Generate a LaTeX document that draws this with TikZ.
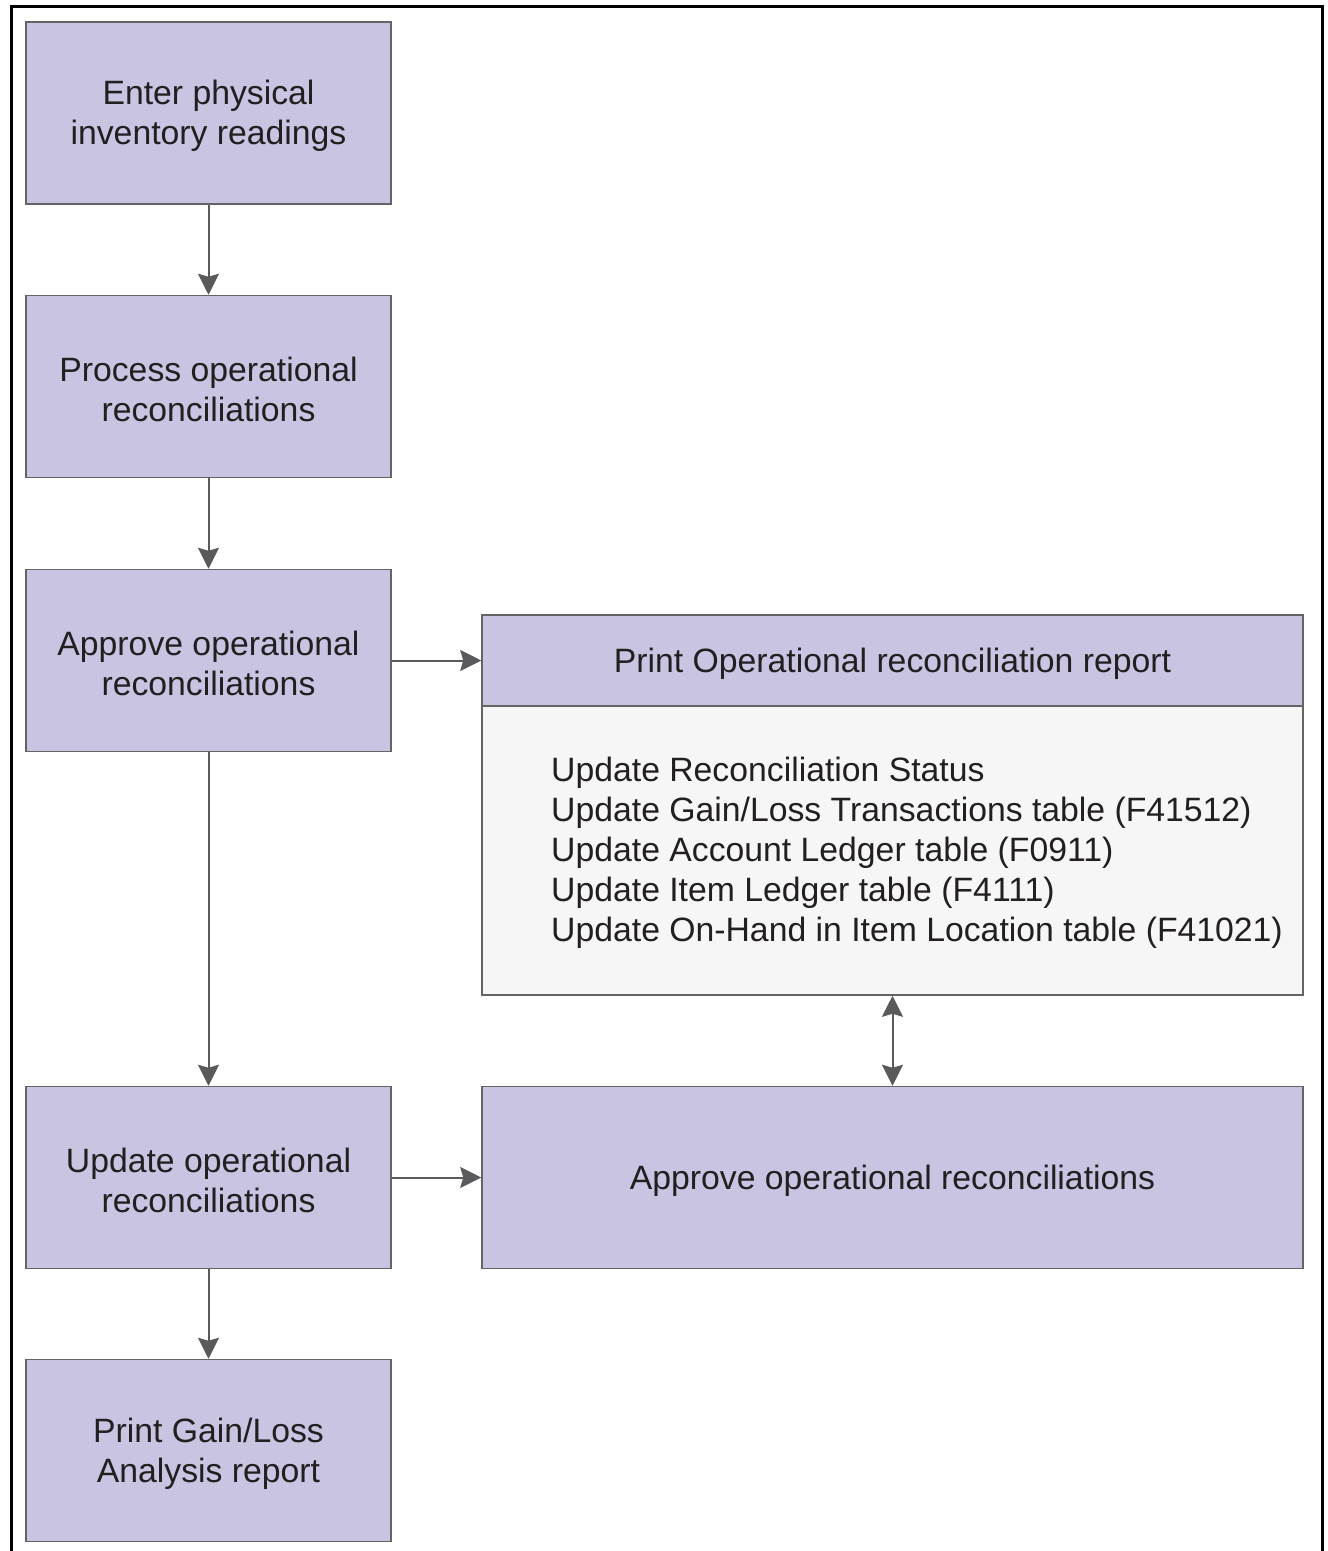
\documentclass[tikz,border=0pt]{standalone}
\usepackage{fontspec}
\setmainfont{Liberation Sans}
\usetikzlibrary{arrows.meta}
\definecolor{boxfill}{RGB}{200,196,225}
\definecolor{bodyfill}{RGB}{246,246,246}
\definecolor{edge}{RGB}{100,100,100}
\definecolor{arrowgray}{RGB}{90,90,92}
\definecolor{ink}{RGB}{35,31,32}
\begin{document}
\begin{tikzpicture}[x=1pt,y=-1pt,
  every node/.style={font=\fontsize{33.75}{40}\selectfont, text=ink, inner sep=0pt},
  boxtext/.style={align=center, yshift=-3pt},
  stepbox/.style={draw=edge, line width=1.5pt, fill=boxfill, minimum width=365pt, minimum height=182pt},
  widebox/.style={draw=edge, line width=1.5pt, fill=boxfill, minimum width=821pt},
  flow/.style={draw=arrowgray, line width=2pt, -{Stealth[length=21pt,width=21pt,inset=3pt]}},
  both/.style={draw=arrowgray, line width=2pt, {Stealth[length=21pt,width=21pt,inset=3pt]}-{Stealth[length=21pt,width=21pt,inset=3pt]}}]
\useasboundingbox (0,0) rectangle (1328,1551);
\fill[white] (0,0) rectangle (1328,1551);
% outer frame, open at the foot of the page
\draw[black, line width=3pt] (11.5,1551) -- (11.5,6) -- (1322,6) -- (1322,1551);

% left column
\node[stepbox, label={[boxtext]center:{Enter physical\\inventory readings}}] (enter) at (208.5,113) {};
\node[stepbox, label={[boxtext]center:{Process operational\\reconciliations}}] (process) at (208.5,386.5) {};
\node[stepbox, label={[boxtext]center:{Approve operational\\reconciliations}}] (approve) at (208.5,660.5) {};
\node[stepbox, label={[boxtext]center:{Update operational\\reconciliations}}] (update) at (208.5,1177.5) {};
\node[stepbox, label={[boxtext]center:{Print Gain/Loss\\Analysis report}}] (gainloss) at (208.5,1450.5) {};

% right column
\node[widebox, minimum height=91pt, label={[boxtext]center:{Print Operational reconciliation report}}] (report) at (892.5,660.5) {};
\node[draw=edge, line width=1.5pt, fill=bodyfill, minimum width=821pt, minimum height=289pt] (body) at (892.5,850.5) {};
\node[anchor=west, align=left] (updates) at (551,852.5) {Update Reconciliation Status\\
Update Gain/Loss Transactions table (F41512)\\
Update Account Ledger table (F0911)\\
Update Item Ledger table (F4111)\\
Update On-Hand in Item Location table (F41021)};
\node[widebox, minimum height=182pt, label={[boxtext]center:{Approve operational reconciliations}}] (approve2) at (892.5,1177.5) {};

% connectors
\draw[flow] (enter) -- (process);
\draw[flow] (process) -- (approve);
\draw[flow] (approve) -- (update);
\draw[flow] (update) -- (gainloss);
\draw[flow] (approve) -- (report);
\draw[flow] (update) -- (approve2);
\draw[both] (body) -- (approve2);
\end{tikzpicture}
\end{document}
